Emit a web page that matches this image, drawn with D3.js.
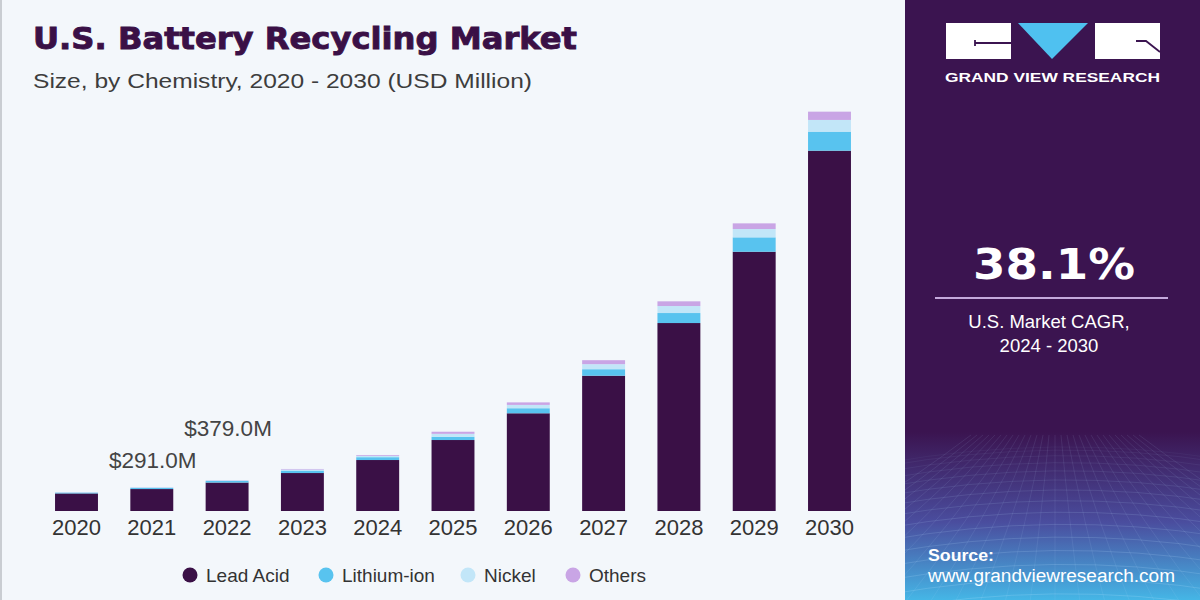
<!DOCTYPE html>
<html>
<head>
<meta charset="utf-8">
<script src="https://cdn.jsdelivr.net/npm/d3@7"></script>
<style>
  html, body { margin: 0; padding: 0; background: #f3f7fb; }
  svg { display: block; }
</style>
</head>
<body>
<svg id="chart" width="1200" height="600"></svg>
<script>
// ---------------- DATA ----------------
const years = ["2020","2021","2022","2023","2024","2025","2026","2027","2028","2029","2030"];
const leadAcid   = [216, 270, 350, 467, 627, 873, 1202, 1664, 2312, 3189, 4432];
const lithiumIon = [10, 15, 20, 30, 35, 40, 62, 80, 123, 177, 234];
const nickel     = [3, 4, 6, 13, 17, 36, 41, 62, 86, 102, 144];
const others     = [1, 2, 3, 7, 10, 26, 31, 49, 58, 70, 102];
const seriesNames = ["Lead Acid", "Lithium-ion", "Nickel", "Others"];
const annotationYears  = ["2021", "2022"];
const annotationLabels = ["$291.0M", "$379.0M"];
const cagrValue = "38.1%";
const cagrLabel1 = "U.S. Market CAGR,";
const cagrLabel2 = "2024 - 2030";
const titleText = "U.S. Battery Recycling Market";
const subtitleText = "Size, by Chemistry, 2020 - 2030 (USD Million)";

// ---------------- STYLE ----------------
const colors = ["#3a1046", "#58c3ef", "#c2e6f8", "#c9a5e5"];
const svg = d3.select("#chart");
const W = 1200, H = 600;

// background
svg.append("rect").attr("x", 0).attr("y", 0).attr("width", W).attr("height", H).attr("fill", "#f3f7fb");
svg.append("rect").attr("x", 0).attr("y", 0).attr("width", 2).attr("height", H).attr("fill", "#c9cdd2");

// ---------------- RIGHT PANEL ----------------
const defs = svg.append("defs");
const grad = defs.append("linearGradient").attr("id", "panelGrad")
  .attr("x1", 0).attr("y1", 0).attr("x2", 0).attr("y2", 1);
grad.append("stop").attr("offset", "0").attr("stop-color", "#3b1450");
grad.append("stop").attr("offset", "0.72").attr("stop-color", "#3b1450");
grad.append("stop").attr("offset", "0.87").attr("stop-color", "#4a4d9e");
grad.append("stop").attr("offset", "1").attr("stop-color", "#45b6e6");
const px0 = 905;
svg.append("rect").attr("x", px0).attr("y", 0).attr("width", W - px0).attr("height", H).attr("fill", "url(#panelGrad)");

// mesh decoration at bottom of panel
defs.append("clipPath").attr("id", "meshClip").append("rect")
  .attr("x", px0).attr("y", 430).attr("width", W - px0).attr("height", 170);
const mesh = svg.append("g").attr("clip-path", "url(#meshClip)")
  .attr("stroke", "#bfe4ff").attr("fill", "none").attr("stroke-width", 0.8);
const hLines = d3.range(0, 16);
mesh.selectAll("path.h").data(hLines).join("path")
  .attr("class", "h")
  .attr("stroke-opacity", d => 0.06 + d * 0.014)
  .attr("d", d => {
    const yy = 445 + Math.pow(d, 1.45) * 3.2;
    return `M${px0 - 20},${yy + 18} Q${px0 + 150},${yy - 12} ${W + 20},${yy + 14}`;
  });
const vLines = d3.range(-14, 15);
mesh.selectAll("path.v").data(vLines).join("path")
  .attr("class", "v")
  .attr("stroke-opacity", 0.12)
  .attr("d", d => {
    const cx = 1055;
    return `M${cx + d * 6},435 Q${cx + d * 14},520 ${cx + d * 26},610`;
  });

// logo
const logo = svg.append("g");
logo.append("rect").attr("x", 946).attr("y", 23).attr("width", 65).attr("height", 36).attr("fill", "#ffffff");
logo.append("path").attr("d", "M975,46 L975,40 M975,43 L1011,43").attr("stroke", "#3b1450").attr("stroke-width", 1.8).attr("fill", "none");
logo.append("path").attr("d", "M1018,23 L1088,23 L1052,59 Z").attr("fill", "#4fc1f0");
logo.append("rect").attr("x", 1095).attr("y", 23).attr("width", 65).attr("height", 36).attr("fill", "#ffffff");
logo.append("path").attr("d", "M1136,41 L1146,41 L1160,52").attr("stroke", "#3b1450").attr("stroke-width", 1.8).attr("fill", "none");
logo.append("text").attr("x", 945).attr("y", 82)
  .attr("textLength", 215).attr("lengthAdjust", "spacingAndGlyphs")
  .attr("font-family", "Liberation Sans, Arial, sans-serif").attr("font-weight", "bold")
  .attr("font-size", 13).attr("fill", "#ffffff").text("GRAND VIEW RESEARCH");

// CAGR block
svg.append("text").attr("x", 973).attr("y", 279)
  .attr("textLength", 162).attr("lengthAdjust", "spacingAndGlyphs")
  .attr("font-family", "DejaVu Sans, Liberation Sans, sans-serif").attr("font-weight", "bold")
  .attr("font-size", 42).attr("fill", "#ffffff").text(cagrValue);
svg.append("line").attr("x1", 935).attr("x2", 1168).attr("y1", 298).attr("y2", 298)
  .attr("stroke", "#c4a9dc").attr("stroke-width", 2);
svg.append("text").attr("x", 1049).attr("y", 328).attr("text-anchor", "middle")
  .attr("font-family", "Liberation Sans, Arial, sans-serif")
  .attr("font-size", 18.5).attr("fill", "#ffffff").text(cagrLabel1);
svg.append("text").attr("x", 1049).attr("y", 352).attr("text-anchor", "middle")
  .attr("font-family", "Liberation Sans, Arial, sans-serif")
  .attr("font-size", 18.5).attr("fill", "#ffffff").text(cagrLabel2);

// source
svg.append("text").attr("x", 928).attr("y", 561)
  .attr("textLength", 66).attr("lengthAdjust", "spacingAndGlyphs")
  .attr("font-family", "Liberation Sans, Arial, sans-serif").attr("font-weight", "bold")
  .attr("font-size", 16).attr("fill", "#ffffff").text("Source:");
svg.append("text").attr("x", 928).attr("y", 582)
  .attr("textLength", 247).attr("lengthAdjust", "spacingAndGlyphs")
  .attr("font-family", "Liberation Sans, Arial, sans-serif")
  .attr("font-size", 18).attr("fill", "#ffffff").text("www.grandviewresearch.com");

// ---------------- TITLES ----------------
svg.append("text").attr("x", 33).attr("y", 49)
  .attr("textLength", 544).attr("lengthAdjust", "spacingAndGlyphs")
  .attr("font-family", "DejaVu Sans, Liberation Sans, sans-serif").attr("font-weight", "bold")
  .attr("font-size", 30).attr("fill", "#3a1046")
  .attr("stroke", "#3a1046").attr("stroke-width", 0.9)
  .text(titleText);
svg.append("text").attr("x", 33).attr("y", 88)
  .attr("textLength", 499).attr("lengthAdjust", "spacingAndGlyphs")
  .attr("font-family", "Liberation Sans, Arial, sans-serif")
  .attr("font-size", 21).attr("fill", "#3d3d3d").text(subtitleText);

// ---------------- CHART ----------------
const table = years.map((yr, i) => ({
  year: yr,
  "Lead Acid": leadAcid[i],
  "Lithium-ion": lithiumIon[i],
  "Nickel": nickel[i],
  "Others": others[i]
}));
const stack = d3.stack().keys(seriesNames);
const stacked = stack(table);

const x = d3.scaleBand().domain(years).range([38.85, 867.15]).paddingInner(0.43).paddingOuter(0.215);
const y = d3.scaleLinear().domain([0, 5000]).range([511, 104.5]);
const color = d3.scaleOrdinal().domain(seriesNames).range(colors);

const g = svg.append("g");
g.selectAll("g.series").data(stacked).join("g")
  .attr("class", "series")
  .attr("fill", d => color(d.key))
  .selectAll("rect").data(d => d).join("rect")
  .attr("x", d => x(d.data.year))
  .attr("width", x.bandwidth())
  .attr("y", d => y(d[1]))
  .attr("height", d => y(d[0]) - y(d[1]));

// x axis
const xAxis = g.append("g").attr("transform", `translate(0,${y(0)})`)
  .call(d3.axisBottom(x).tickSize(0).tickPadding(8));
xAxis.select(".domain").remove();
xAxis.selectAll("text")
  .attr("font-family", "Liberation Sans, Arial, sans-serif")
  .attr("font-size", 22).attr("fill", "#333333");

// annotations
const totals = years.map((yr, i) => leadAcid[i] + lithiumIon[i] + nickel[i] + others[i]);
annotationYears.forEach((yr, k) => {
  const i = years.indexOf(yr);
  g.append("text")
    .attr("x", x(yr) + x.bandwidth() / 2 + 1)
    .attr("y", y(totals[i]) - 19 - k * 25)
    .attr("text-anchor", "middle")
    .attr("font-family", "Liberation Sans, Arial, sans-serif")
    .attr("font-size", 22.5).attr("fill", "#444444")
    .text(annotationLabels[k]);
});

// legend
const legendX = [190, 326, 468, 573];
const legend = svg.append("g");
seriesNames.forEach((name, i) => {
  legend.append("circle").attr("cx", legendX[i]).attr("cy", 575).attr("r", 7.5).attr("fill", colors[i]);
  legend.append("text").attr("x", legendX[i] + 16).attr("y", 582)
    .attr("font-family", "Liberation Sans, Arial, sans-serif")
    .attr("font-size", 19).attr("fill", "#333333").text(name);
});
</script>
</body>
</html>
